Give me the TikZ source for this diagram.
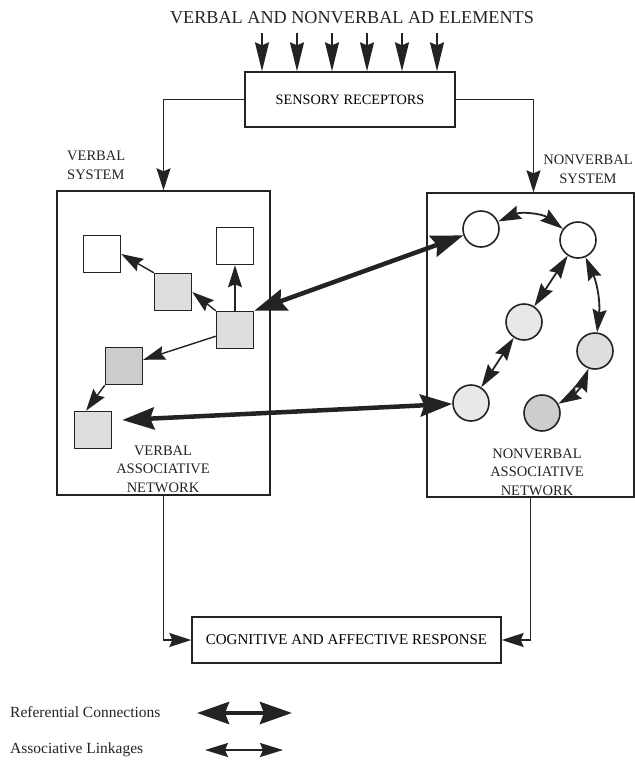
\documentclass[tikz,border=0pt]{standalone}
\usepackage{fontspec}
\setmainfont{Liberation Serif}
\usetikzlibrary{arrows.meta}
\definecolor{inkgray}{RGB}{35,35,35}
\definecolor{speckle}{RGB}{222,222,222}
\definecolor{lightspeckle}{RGB}{232,232,232}
\definecolor{darkspeckle}{RGB}{205,205,205}

\begin{document}
\begin{tikzpicture}[x=1pt,y=-1pt,
    flow/.style={draw=inkgray, line width=1.4pt, -{Stealth[length=22pt,width=14pt,inset=3pt]}},
    inflow/.style={flow, -{Stealth[length=29pt,width=14pt,inset=3pt]}},
    assoc/.style={draw=inkgray, line width=1.8pt, {Stealth[length=23pt,width=14pt,inset=3pt]}-{Stealth[length=23pt,width=14pt,inset=3pt]}},
    refer/.style={draw=inkgray, line width=4.5pt,
        {Stealth[length=32pt,width=22pt,inset=4pt]}-{Stealth[length=32pt,width=22pt,inset=4pt]}},
    box/.style={draw=inkgray, line width=1.4pt, inner sep=0pt},
    vsq/.style={draw=inkgray, line width=1.5pt, minimum size=37pt, inner sep=0pt},
    nvc/.style={circle, draw=inkgray, line width=1.6pt, minimum size=36pt, inner sep=0pt},
    lbl/.style={text=inkgray, font=\fontsize{14.5}{19}\selectfont, align=center, inner sep=0pt}]
    \useasboundingbox (0,0) rectangle (635,764);

    % Input
    \node[lbl, font=\fontsize{18.2}{20}\selectfont] (title) at (352,18) {VERBAL AND NONVERBAL AD ELEMENTS};
    \node[box, minimum width=210pt, minimum height=55pt, font=\fontsize{14.3}{16}\selectfont] (recept) at (350,99.5) {SENSORY RECEPTORS};
    \foreach \i/\x in {1/262,2/297,3/332,4/367,5/402,6/437} {
        \coordinate (in\i) at (\x,33);
        \draw[inflow] (in\i) -- (in\i |- recept.north);
    }

    % Systems
    \node[box, minimum width=213pt, minimum height=304pt] (vsys) at (163.5,343) {};
    \node[box, minimum width=207pt, minimum height=304pt] (nvsys) at (530.5,345) {};
    \node[lbl, align=left, anchor=north west] (vsyslbl) at (67,151) {VERBAL\\SYSTEM};
    \node[lbl, anchor=north] (nvsyslbl) at (588,155) {NONVERBAL\\SYSTEM};
    \draw[flow] (recept.west) -| (vsys.north);
    \draw[flow] (recept.east) -| ([xshift=3pt]nvsys.north);

    % Verbal associative network
    \node[vsq] (sq1) at (102,254) {};
    \node[vsq] (sq2) at (235,246) {};
    \node[vsq, fill=speckle] (sq3) at (173,292) {};
    \node[vsq, fill=speckle] (sq4) at (235,330) {};
    \node[vsq, fill=darkspeckle] (sq5) at (124,366) {};
    \node[vsq, fill=speckle] (sq6) at (93,430) {};
    \draw[flow] (sq4.north west) -- (sq3.east);
    \draw[flow] (sq3.north west) -- (sq1.east);
    \draw[flow] (sq4) -- (sq2);
    \draw[flow] (sq4) -- (sq5);
    \draw[flow] (sq5.south west) -- ([xshift=-7pt]sq6.north);
    \node[lbl, font=\fontsize{14.5}{18.5}\selectfont] (vnet) at (163,469) {VERBAL\\ASSOCIATIVE\\NETWORK};

    % Nonverbal associative network
    \node[nvc] (c1) at (481,229) {};
    \node[nvc] (c2) at (578,240) {};
    \node[nvc, fill=lightspeckle] (c3) at (524,322) {};
    \node[nvc, fill=speckle] (c4) at (595,351) {};
    \node[nvc, fill=lightspeckle] (c5) at (471,403) {};
    \node[nvc, fill=darkspeckle] (c6) at (542,413) {};
    \draw[assoc] (c1) to[bend left=30] (c2);
    \draw[assoc] (c2) to[bend left=15] (c4);
    \draw[assoc] (c2) -- (c3);
    \draw[assoc] (c3) -- (c5);
    \draw[assoc] (c6) to[bend right=20] (c4);
    \node[lbl, font=\fontsize{14.5}{18.5}\selectfont] (nvnet) at (537,472) {NONVERBAL\\ASSOCIATIVE\\NETWORK};

    % Referential connections
    \draw[refer] (sq4.north east) -- (c1);
    \draw[refer] ([shift={(10,-10)}]sq6.east) -- (c5);

    % Output
    \node[box, minimum width=309pt, minimum height=46pt, font=\fontsize{15}{17}\selectfont] (resp) at (346.5,640) {COGNITIVE AND AFFECTIVE RESPONSE};
    \draw[flow] (vsys.south) |- (resp.west);
    \draw[flow] (nvsys.south) |- (resp.east);

    % Legend
    \node[lbl, anchor=west, font=\fontsize{15.5}{18}\selectfont] (reflbl) at (10,712) {Referential Connections};
    \node[lbl, anchor=west, font=\fontsize{15.5}{18}\selectfont] (asslbl) at (10,750) {Associative Linkages};
    \coordinate (refa) at (197,713);
    \coordinate (refb) at (292,713);
    \coordinate (assa) at (205,750);
    \coordinate (assb) at (283,750);
    \draw[refer] (refa) -- (refb);
    \draw[assoc] (assa) -- (assb);
\end{tikzpicture}
\end{document}
